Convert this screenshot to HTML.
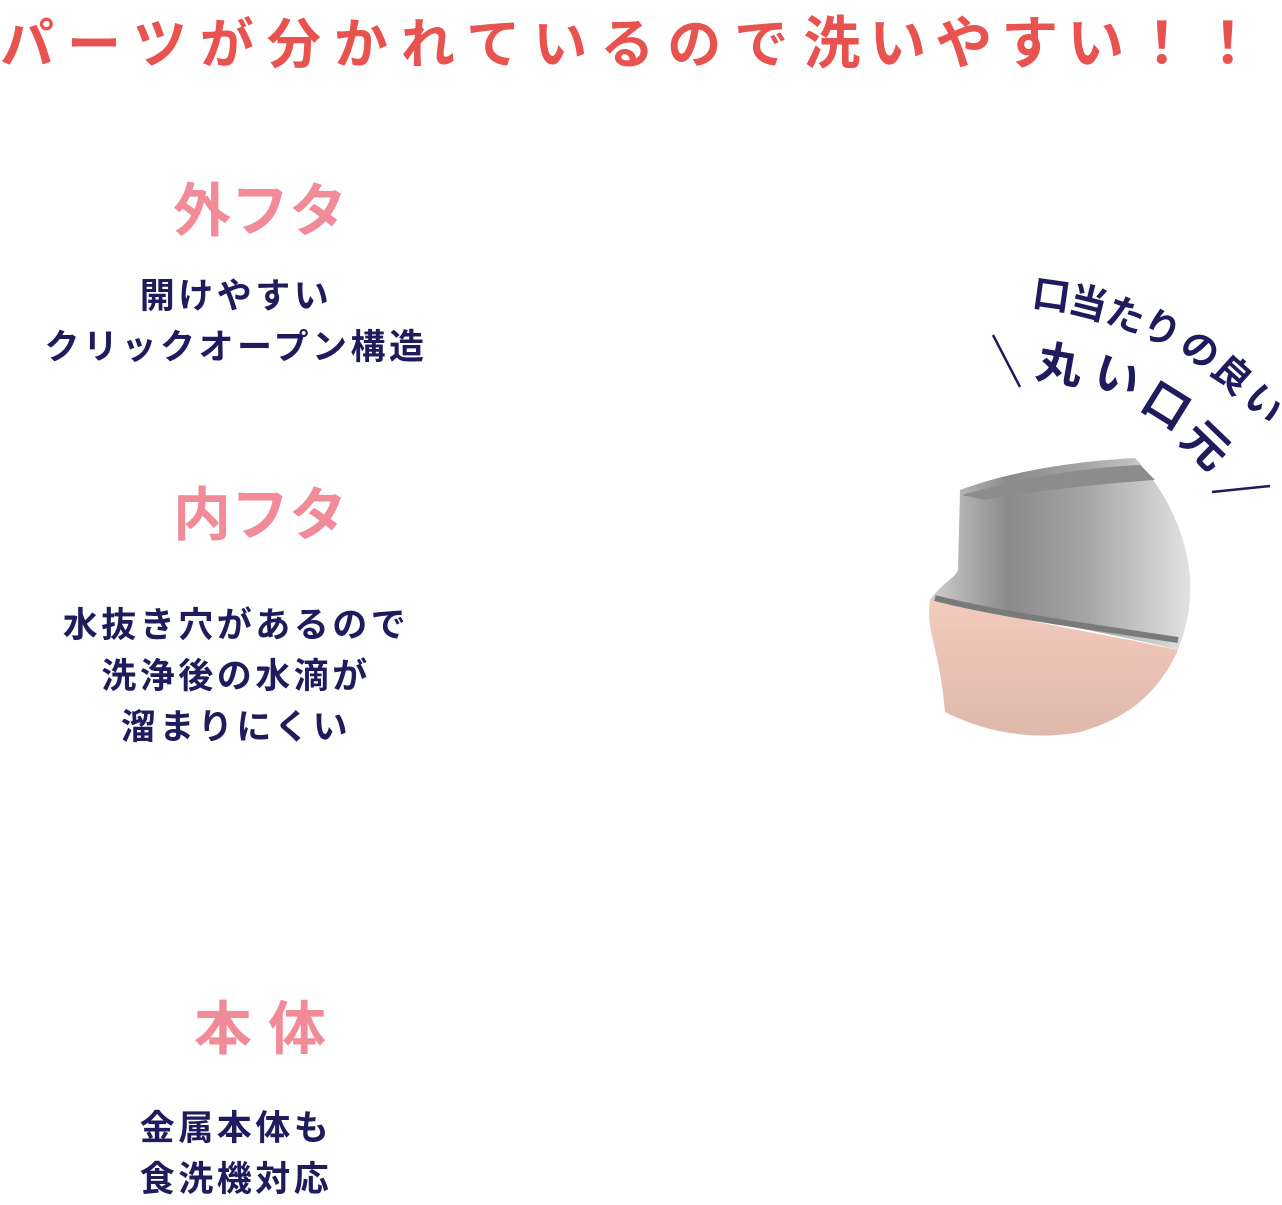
<!DOCTYPE html>
<html><head><meta charset="utf-8"><style>
body{margin:0;width:1282px;height:1201px;background:#fff;position:relative;overflow:hidden;font-family:"Liberation Sans","Noto Sans CJK JP",sans-serif;font-weight:bold}
.a{position:absolute;white-space:nowrap}
.t{left:0;top:-2px;font-size:54px;color:#e8524f;letter-spacing:13px}
.p{color:#f08b97;font-size:58px;text-align:center;width:520px;left:0}
.n{color:#1f1b5c;font-size:35px;text-align:center;width:472px;left:0;line-height:51px;letter-spacing:3.5px}
.c{position:absolute;color:#1f1b5c;transform:translate(-50%,-50%)}
</style></head><body>
<div class="a t">パーツが分かれているので<span style="font-size:57px;letter-spacing:9px;margin-left:2px">洗いやすい！！</span></div>
<div class="a p" style="top:164px">外フタ</div>
<div class="a n" style="top:271px">開けやすい<br>クリックオープン構造</div>
<div class="a p" style="top:468px">内フタ</div>
<div class="a n" style="top:600px">水抜き穴があるので<br>洗浄後の水滴が<br>溜まりにくい</div>
<div class="a p" style="top:982px">本 体</div>
<div class="a n" style="top:1103px">金属本体も<br>食洗機対応</div>

<svg class="a" style="left:0;top:0" width="1282" height="1201">
<defs>
<linearGradient id="m" x1="0" y1="0" x2="1" y2="0"><stop offset="0" stop-color="#cfcfcf"/><stop offset=".3" stop-color="#8a8a8a"/><stop offset=".6" stop-color="#a5a5a5"/><stop offset="1" stop-color="#e2e2e2"/></linearGradient>
<linearGradient id="pk" x1="0" y1="0" x2="0" y2="1"><stop offset="0" stop-color="#f3cbbd"/><stop offset="1" stop-color="#ddb8ab"/></linearGradient>
</defs>
<path d="M930,600 C925,630 940,650 945,712 C990,735 1040,740 1080,732 C1130,718 1160,690 1178,650 L1130,640 C1050,625 980,610 930,600Z" fill="url(#pk)"/>
<path d="M960,490 C1000,475 1060,462 1135,458 C1165,490 1185,530 1190,575 C1192,610 1185,630 1178,650 C1100,630 1000,615 930,600 C940,585 955,578 958,570 Z" fill="url(#m)"/>
<path d="M962,495 C1020,478 1080,468 1140,465 L1155,480 C1080,485 1010,495 985,500Z" fill="#8c8c8c"/>
<path d="M935,598 C1000,615 1100,628 1178,640" stroke="#7a7a7a" stroke-width="6" fill="none"/>
<line x1="993" y1="335" x2="1020" y2="387" stroke="#1f1b5c" stroke-width="2.5"/>
<line x1="1212" y1="492" x2="1270" y2="486" stroke="#1f1b5c" stroke-width="2.5"/>
</svg>
<div class="c" style="left:1052px;top:292px;font-size:38px;transform:translate(-50%,-50%) rotate(8deg)">口</div>
<div class="c" style="left:1089px;top:300px;font-size:38px;transform:translate(-50%,-50%) rotate(14deg)">当</div>
<div class="c" style="left:1127px;top:312px;font-size:38px;transform:translate(-50%,-50%) rotate(20deg)">た</div>
<div class="c" style="left:1163px;top:326px;font-size:38px;transform:translate(-50%,-50%) rotate(27deg)">り</div>
<div class="c" style="left:1202px;top:347px;font-size:38px;transform:translate(-50%,-50%) rotate(34deg)">の</div>
<div class="c" style="left:1234px;top:372px;font-size:38px;transform:translate(-50%,-50%) rotate(42deg)">良</div>
<div class="c" style="left:1266px;top:402px;font-size:38px;transform:translate(-50%,-50%) rotate(50deg)">い</div>
<div class="c" style="left:1060px;top:362px;font-size:46px;transform:translate(-50%,-50%) rotate(10deg)">丸</div>
<div class="c" style="left:1118px;top:374px;font-size:46px;transform:translate(-50%,-50%) rotate(20deg)">い</div>
<div class="c" style="left:1168px;top:403px;font-size:46px;transform:translate(-50%,-50%) rotate(32deg)">口</div>
<div class="c" style="left:1208px;top:443px;font-size:46px;transform:translate(-50%,-50%) rotate(44deg)">元</div>
</body></html>
